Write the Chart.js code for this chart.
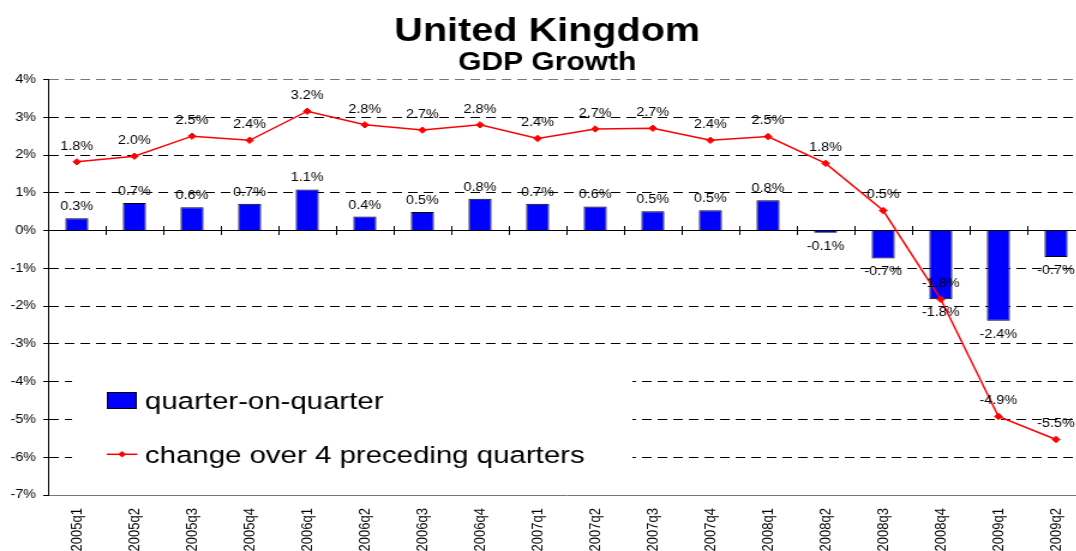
<!DOCTYPE html>
<html><head><meta charset="utf-8">
<script src="https://cdn.jsdelivr.net/npm/chart.js@4.4.1/dist/chart.umd.min.js"></script>
<style>
html,body{margin:0;padding:0;overflow:hidden;background:#fff;width:1076px;height:551px}
#wrap{position:absolute;left:0;top:0;width:927px;height:551px;transform:scaleX(1.2);transform-origin:0 0}
canvas{display:block}
</style></head><body>
<div id="wrap"><canvas id="c" width="927" height="551"></canvas></div>
<script>
// ---- data ----
const categories = ['2005q1','2005q2','2005q3','2005q4','2006q1','2006q2','2006q3','2006q4','2007q1','2007q2','2007q3','2007q4','2008q1','2008q2','2008q3','2008q4','2009q1','2009q2'];
const qoqValues = [0.33,0.73,0.62,0.71,1.09,0.37,0.49,0.84,0.71,0.64,0.51,0.54,0.80,-0.06,-0.74,-1.82,-2.39,-0.70];
const annualValues = [1.82,1.97,2.50,2.39,3.16,2.80,2.66,2.80,2.44,2.69,2.71,2.39,2.49,1.78,0.53,-1.82,-4.92,-5.53];
const seriesNames = ['quarter-on-quarter','change over 4 preceding quarters'];
const yMin = -7, yMax = 4, yStep = 1;
const titleText = 'United Kingdom';
const subtitleText = 'GDP Growth';

const FONT = "'Liberation Sans', Arial, Helvetica, sans-serif";

const valueLabelPlugin = {
  id: 'valueLabels',
  afterDatasetsDraw(chart) {
    const ctx = chart.ctx;
    ctx.save();
    ctx.font = '12px ' + FONT;
    ctx.fillStyle = '#000';
    ctx.textAlign = 'center';
    ctx.textBaseline = 'alphabetic';
    chart.data.datasets.forEach((ds, di) => {
      const meta = chart.getDatasetMeta(di);
      meta.data.forEach((el, i) => {
        const v = ds.data[i];
        const txt = v.toFixed(1) + '%';
        let y;
        if (ds.type === 'line') y = el.y - 12.3;
        else y = v >= 0 ? el.y - 8 : el.y + 16.7;
        ctx.fillText(txt, el.x, y);
      });
    });
    ctx.restore();
  }
};

const insetLegendPlugin = {
  id: 'insetLegend',
  beforeDatasetsDraw(chart) {
    const ctx = chart.ctx;
    const ds = chart.data.datasets;
    ctx.save();
    ctx.fillStyle = '#fff';
    ctx.fillRect(60, 350, 467, 132);
    // bar swatch
    ctx.fillStyle = ds[0].backgroundColor;
    ctx.fillRect(89, 392, 25, 17);
    ctx.strokeStyle = '#000';
    ctx.lineWidth = 1;
    ctx.strokeRect(89.5, 392.5, 24, 16);
    // line swatch
    ctx.strokeStyle = ds[1].borderColor;
    ctx.lineWidth = 1.5;
    ctx.beginPath();
    ctx.moveTo(89, 454.3);
    ctx.lineTo(114.4, 454.3);
    ctx.stroke();
    ctx.fillStyle = ds[1].backgroundColor;
    ctx.beginPath();
    const cx = 101.7, cy = 454.3, r = 3.2;
    ctx.moveTo(cx - r, cy); ctx.lineTo(cx, cy - r); ctx.lineTo(cx + r, cy); ctx.lineTo(cx, cy + r); ctx.closePath();
    ctx.fill();
    // texts
    ctx.fillStyle = '#000';
    ctx.font = '24.5px ' + FONT;
    ctx.textAlign = 'left';
    ctx.textBaseline = 'alphabetic';
    ctx.fillText(ds[0].label, 120.8, 408.7);
    ctx.fillText(ds[1].label, 120.8, 462.7);
    ctx.restore();
  }
};

new Chart(document.getElementById('c'), {
  type: 'bar',
  data: {
    labels: categories,
    datasets: [
      { type: 'bar', label: seriesNames[0], data: qoqValues, backgroundColor: '#0000FF', borderColor: '#000', borderWidth: 1,
        barPercentage: 0.4, categoryPercentage: 1, order: 2, xAxisID: 'x', yAxisID: 'y' },
      { type: 'line', label: seriesNames[1], data: annualValues, borderColor: '#FF0000', backgroundColor: '#FF0000', borderWidth: 1.5,
        pointStyle: 'rectRot', pointRadius: 3.2, pointBorderWidth: 1, pointBackgroundColor: '#FF0000', pointBorderColor: '#FF0000',
        tension: 0, fill: false, order: 1, xAxisID: 'x', yAxisID: 'y' }
    ]
  },
  options: {
    responsive: false, animation: false, devicePixelRatio: 1,
    layout: { padding: { left: 8, right: 23, top: 0, bottom: 0 } },
    plugins: {
      legend: { display: false },
      tooltip: { enabled: false },
      title: { display: true, text: titleText, color: '#000', font: { family: FONT, size: 33, weight: 'bold', lineHeight: 0.9 }, padding: { top: 16.6, bottom: 0 } },
      subtitle: { display: true, text: subtitleText, color: '#000', font: { family: FONT, size: 25, weight: 'bold', lineHeight: 1.2 }, padding: { top: 2, bottom: 1.2 } }
    },
    scales: {
      x: {
        type: 'category', position: 'bottom', offset: true,
        grid: { display: true, drawOnChartArea: false, drawTicks: false, offset: true },
        border: { display: true, color: '#777', width: 1 },
        ticks: { autoSkip: false, minRotation: 90, maxRotation: 90, padding: 13, color: '#000', font: { family: FONT, size: 13 } },
        afterFit(s) { s.height = 56; }
      },
      x0: {
        type: 'category', axis: 'x', position: { y: 0.12 }, offset: true,
        grid: { display: true, offset: true, drawOnChartArea: false, drawTicks: true, tickLength: 9, color: '#000', lineWidth: 1 },
        border: { display: false },
        ticks: { display: false }
      },
      y: {
        min: yMin, max: yMax,
        ticks: { stepSize: yStep, callback: v => v + '%', color: '#000', font: { family: FONT, size: 12 }, padding: 6 },
        grid: {
          color: c => (c.tick && c.tick.value === yMin) ? 'rgba(0,0,0,0)' : (c.tick && c.tick.value === yMax ? '#777' : '#000'),
          tickColor: '#000', tickLength: 4, lineWidth: 1, drawTicks: true
        },
        border: { display: true, color: '#000', width: 1, dash: c => (c.tick && c.tick.value === 0) ? [] : [8, 5] },
        afterFit(s) { s.width = 32; }
      }
    }
  },
  plugins: [insetLegendPlugin, valueLabelPlugin]
});
</script>
</body></html>
